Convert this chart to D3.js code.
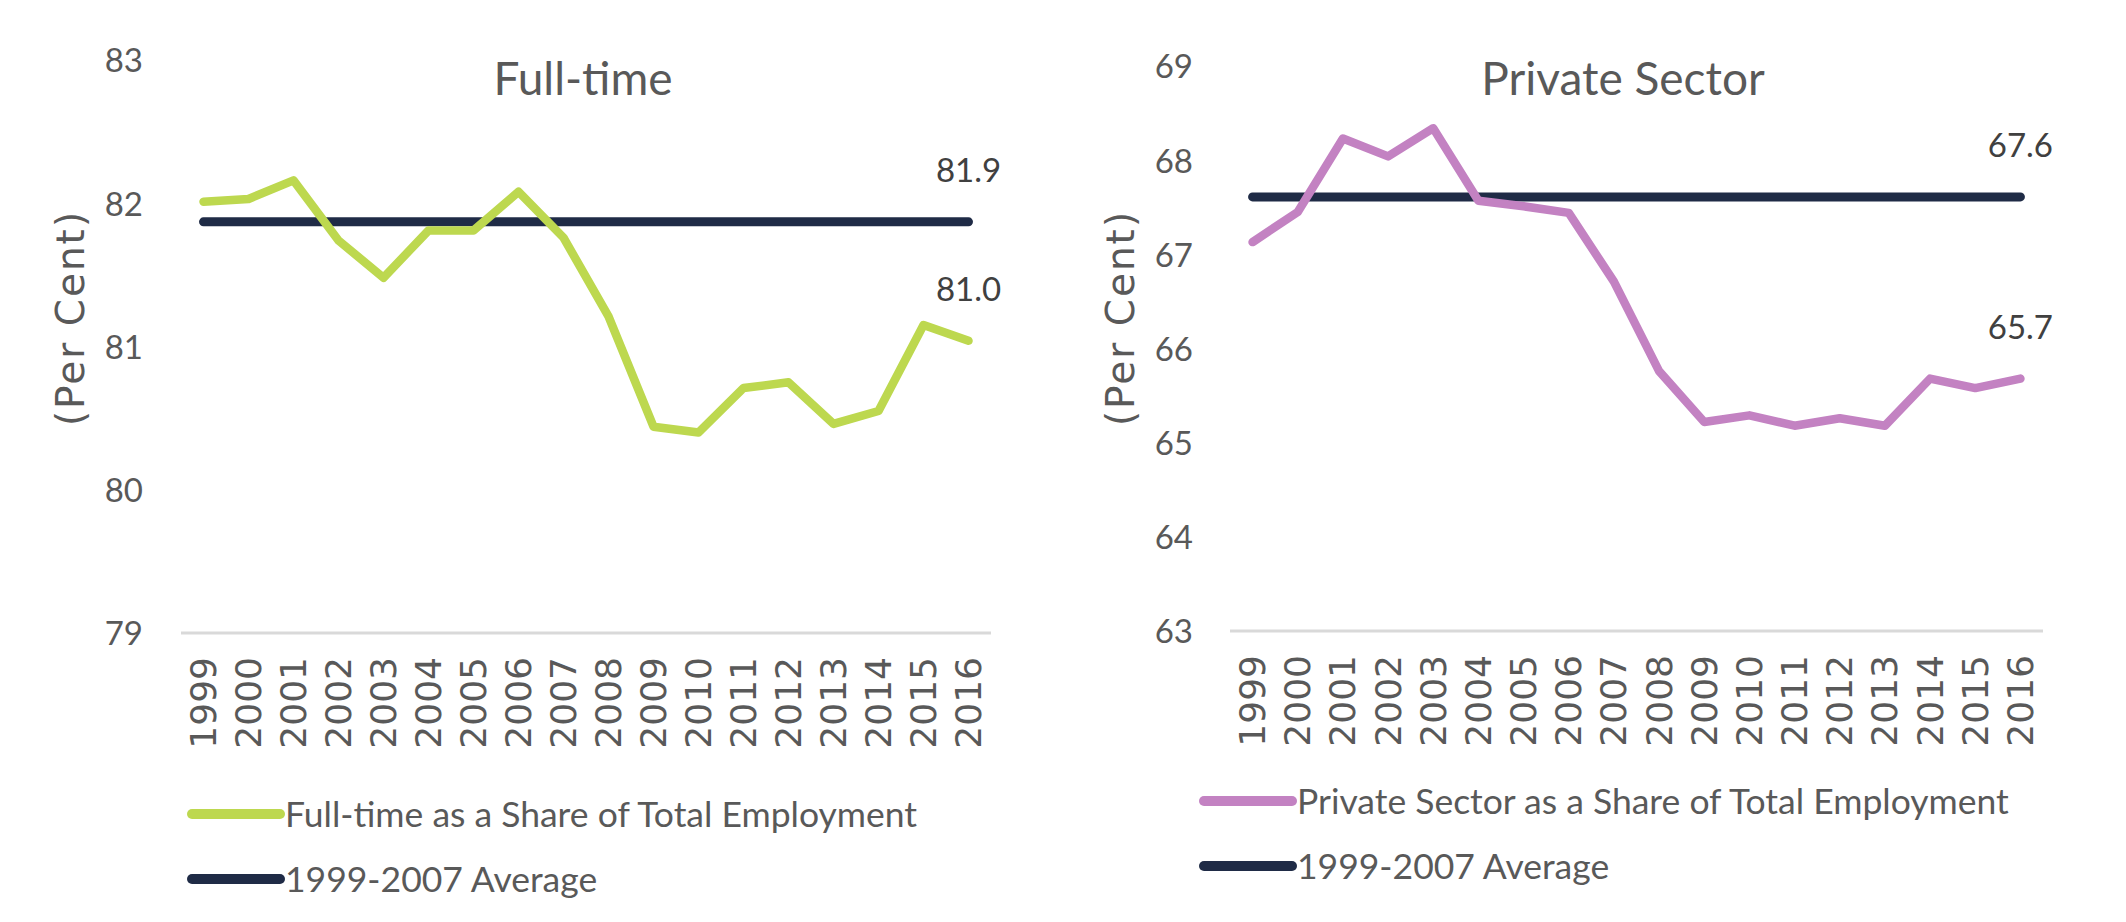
<!DOCTYPE html>
<html>
<head>
<meta charset="utf-8">
<script src="https://cdn.jsdelivr.net/npm/d3@7"></script>
<style>
  body { margin: 0; background: #fff; }
  svg { display: block; }
</style>
</head>
<body>
<div id="chart-area"></div>
<script>
// data
const years = ['1999','2000','2001','2002','2003','2004','2005','2006','2007',
  '2008','2009','2010','2011','2012','2013','2014','2015','2016'];

const fullTime = [82.01, 82.03, 82.16, 81.74, 81.48, 81.81, 81.81, 82.08, 81.76,
  81.21, 80.44, 80.40, 80.71, 80.75, 80.46, 80.55, 81.15, 81.04];
const fullTimeAvg = 81.87;
const fullTimeTicks = [79, 80, 81, 82, 83];

const privateSector = [67.13, 67.45, 68.23, 68.04, 68.34, 67.57, 67.51, 67.44, 66.71,
  65.76, 65.22, 65.29, 65.18, 65.26, 65.18, 65.68, 65.58, 65.68];
const privateAvg = 67.61;
const privateTicks = [63, 64, 65, 66, 67, 68, 69];

const legendAvg = '1999-2007 Average';

const W = 2126, H = 922;
const svg = d3.select('#chart-area')
  .append('svg')
  .attr('width', W)
  .attr('height', H);

svg.append('rect').attr('width', W).attr('height', H).attr('fill', '#fff');

const navy = '#1f2b46';
const grey = '#595959';

function drawPanel(p) {
  const g = svg.append('g');

  const x = d3.scaleBand()
    .domain(years)
    .range([p.x0, p.x1]);
  const cx = d => x(d) + x.bandwidth() / 2;

  const y = d3.scaleLinear()
    .domain(d3.extent(p.ticks))
    .range([p.yBot, p.yTop]);

  // y tick labels (no axis line in the reference)
  const yAxis = d3.axisLeft(y)
    .tickValues(p.ticks)
    .tickSize(0)
    .tickPadding(0)
    .tickFormat(d3.format('d'));
  const ya = g.append('g')
    .attr('transform', `translate(${p.tickX}, 0)`)
    .call(yAxis);
  ya.select('.domain').remove();
  ya.selectAll('text')
    .attr('font-family', 'Lato, sans-serif')
    .attr('font-size', '33px')
    .attr('fill', grey)
    .attr('dy', '0.36em');

  // baseline gridline
  g.append('line')
    .attr('x1', p.x0).attr('x2', p.x1)
    .attr('y1', y(p.ticks[0])).attr('y2', y(p.ticks[0]))
    .attr('stroke', '#d9d9d9')
    .attr('stroke-width', 3);

  // year labels, rotated
  g.selectAll('.year')
    .data(years)
    .enter()
    .append('text')
    .attr('class', 'year')
    .attr('transform', d => `translate(${cx(d)}, ${p.yBot + 24}) rotate(-90)`)
    .attr('text-anchor', 'end')
    .attr('dominant-baseline', 'central')
    .attr('font-family', '"DejaVu Sans", Verdana, sans-serif')
    .attr('font-size', '36px')
    .attr('fill', grey)
    .text(d => d);

  // y label
  g.append('text')
    .attr('transform', `translate(${p.ylabelX}, 318) rotate(-90)`)
    .attr('text-anchor', 'middle')
    .attr('dominant-baseline', 'central')
    .attr('font-family', '"DejaVu Sans", Verdana, sans-serif')
    .attr('font-size', '39px')
    .attr('letter-spacing', '2px')
    .attr('fill', grey)
    .text('(Per Cent)');

  // title
  g.append('text')
    .attr('x', p.titleX)
    .attr('y', 95)
    .attr('text-anchor', 'middle')
    .attr('font-family', 'Lato, sans-serif')
    .attr('font-size', '46px')
    .attr('fill', grey)
    .text(p.title);

  // average line
  g.append('line')
    .attr('x1', cx(years[0])).attr('x2', cx(years[years.length - 1]))
    .attr('y1', y(p.avg)).attr('y2', y(p.avg))
    .attr('stroke', navy)
    .attr('stroke-width', 9)
    .attr('stroke-linecap', 'round');

  // series line
  const line = d3.line()
    .x((d, i) => cx(years[i]))
    .y(d => y(d));
  g.append('path')
    .datum(p.values)
    .attr('d', line)
    .attr('fill', 'none')
    .attr('stroke', p.color)
    .attr('stroke-width', 8.5)
    .attr('stroke-linecap', 'round')
    .attr('stroke-linejoin', 'round');

  // end labels
  const last = years[years.length - 1];
  const labs = [p.avg, p.values[p.values.length - 1]];
  g.selectAll('.endlab')
    .data(labs)
    .enter()
    .append('text')
    .attr('class', 'endlab')
    .attr('x', cx(last))
    .attr('y', d => y(d) - 40)
    .attr('text-anchor', 'middle')
    .attr('font-family', 'Lato, sans-serif')
    .attr('font-size', '33px')
    .attr('fill', '#404040')
    .text(d => d3.format('.1f')(d));

  // legend
  const items = [
    {label: p.legend, color: p.color},
    {label: legendAvg, color: navy}
  ];
  const lg = g.selectAll('.leg')
    .data(items)
    .enter()
    .append('g')
    .attr('class', 'leg')
    .attr('transform', (d, i) => `translate(${p.legX}, ${p.legY + i * 65})`);
  lg.append('line')
    .attr('x1', 0).attr('x2', 88)
    .attr('y1', 0).attr('y2', 0)
    .attr('stroke', d => d.color)
    .attr('stroke-width', 10)
    .attr('stroke-linecap', 'round');
  lg.append('text')
    .attr('x', 93)
    .attr('dy', '0.36em')
    .attr('font-family', 'Lato, sans-serif')
    .attr('font-size', '35.5px')
    .attr('fill', grey)
    .text(d => d.label);
}

drawPanel({
  title: 'Full-time', values: fullTime, avg: fullTimeAvg, ticks: fullTimeTicks,
  color: '#bdd84f', legend: 'Full-time as a Share of Total Employment',
  x0: 181, x1: 991, yTop: 60, yBot: 633, tickX: 143, ylabelX: 70, titleX: 583,
  legX: 192, legY: 814
});

drawPanel({
  title: 'Private Sector', values: privateSector, avg: privateAvg, ticks: privateTicks,
  color: '#c382c2', legend: 'Private Sector as a Share of Total Employment',
  x0: 1230, x1: 2043, yTop: 66, yBot: 631, tickX: 1193, ylabelX: 1120, titleX: 1623,
  legX: 1204, legY: 801
});
</script>
</body>
</html>
